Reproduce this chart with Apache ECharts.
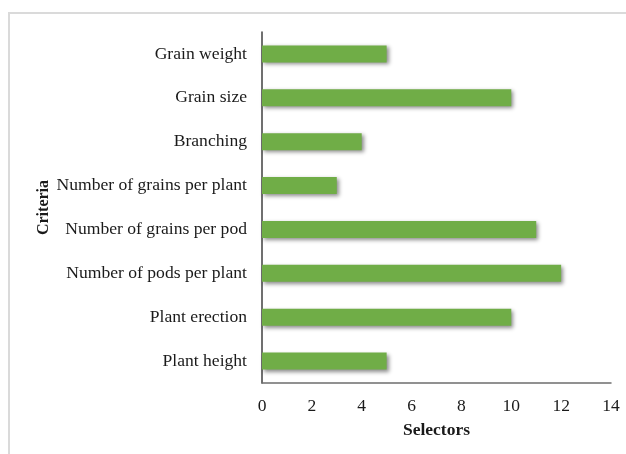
<!DOCTYPE html>
<html><head><meta charset="utf-8">
<script src="https://cdn.jsdelivr.net/npm/echarts@6/dist/echarts.min.js"></script>
<style>html,body{margin:0;padding:0;background:#fff}#c{width:626px;height:454px}</style>
</head><body><div id="c"></div>
<script>
const categories = ["Plant height","Plant erection","Number of pods per plant","Number of grains per pod","Number of grains per plant","Branching","Grain size","Grain weight"];
const selectors = [5,10,12,11,3,4,10,5];
const xTicks = {min:0,max:14,interval:2};

const chart = echarts.init(document.getElementById('c'), null, {renderer:'canvas'});
const font = '"Liberation Serif","Times New Roman",serif';
chart.setOption({
  animation:false,
  backgroundColor:'#fff',
  graphic:[{type:'rect',shape:{x:9,y:13,width:700,height:500},style:{fill:'none',stroke:'#dadada',lineWidth:2},silent:true}],
  grid:{left:262,right:15,top:32,bottom:71,containLabel:false},
  xAxis:{type:'value',min:xTicks.min,max:xTicks.max,interval:xTicks.interval,
    name:'Selectors',nameLocation:'middle',nameGap:38,nameMoveOverlap:false,
    nameTextStyle:{fontFamily:font,fontSize:17.5,fontWeight:'bold',color:'#1a1a1a'},
    axisLine:{show:true,lineStyle:{color:'#6e6e6e',width:1.5}},
    axisTick:{show:false},splitLine:{show:false},
    axisLabel:{fontFamily:font,fontSize:17.5,color:'#1a1a1a',margin:14}},
  yAxis:{type:'category',data:categories,
    name:'Criteria',nameLocation:'middle',nameGap:210,nameRotate:90,nameMoveOverlap:false,
    nameTextStyle:{fontFamily:font,fontSize:16,fontWeight:'bold',color:'#1a1a1a'},
    axisLine:{show:true,lineStyle:{color:'#404040',width:1.5}},
    axisTick:{show:false},
    axisLabel:{fontFamily:font,fontSize:17.6,color:'#1a1a1a',margin:15}},
  series:[{type:'bar',data:selectors,barWidth:17,
    itemStyle:{color:'#70AD47',shadowColor:'rgba(0,0,0,0.45)',shadowBlur:4,shadowOffsetX:2,shadowOffsetY:2}}]
});
</script></body></html>
